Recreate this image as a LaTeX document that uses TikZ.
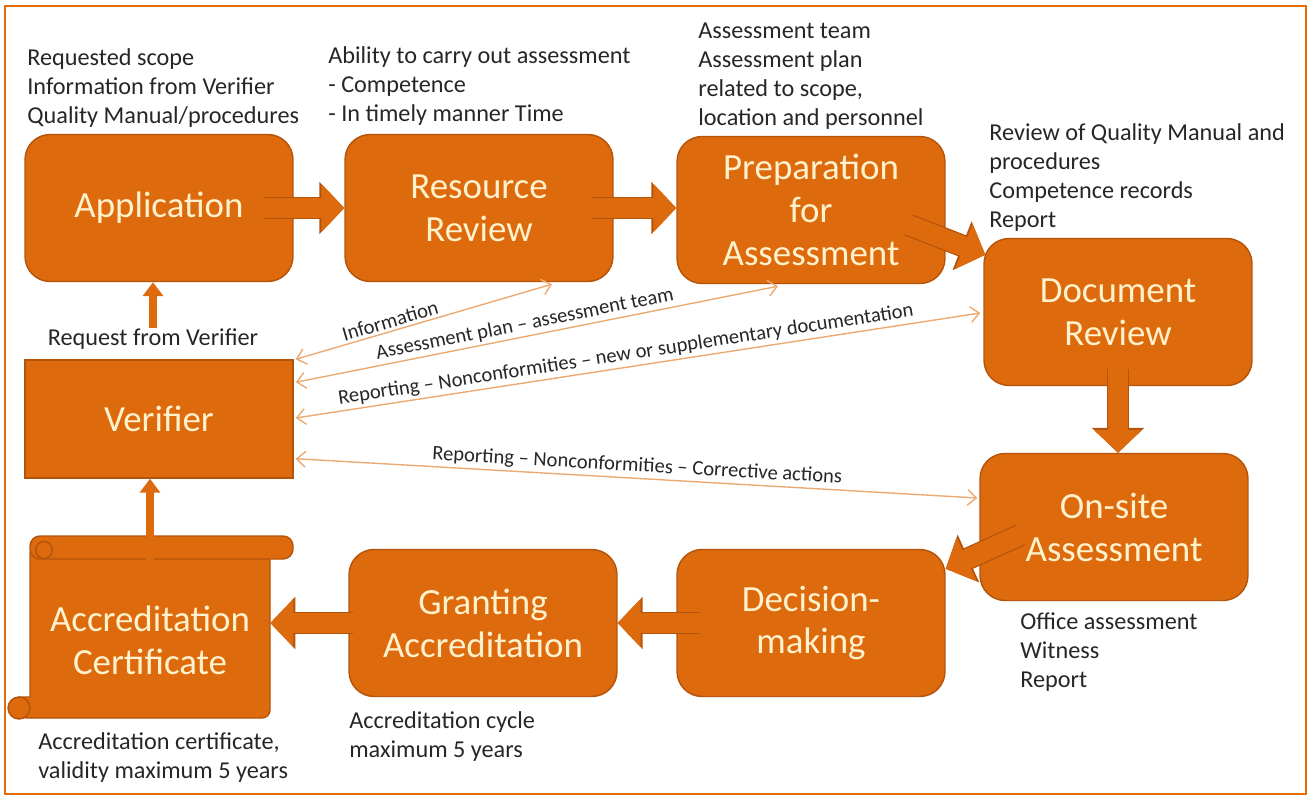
\documentclass[tikz,border=0pt]{standalone}
\usepackage{fontspec}
\setmainfont{Carlito}
\usepackage{tikz}
\usetikzlibrary{arrows.meta, positioning, calc}
\usepackage{xcolor}
\definecolor{boxfill}{RGB}{222,106,14}
\definecolor{boxline}{RGB}{180,84,10}
\definecolor{boxtext}{RGB}{255,242,204}
\definecolor{infoline}{RGB}{236,170,115}
\definecolor{framecol}{RGB}{228,108,10}

\begin{document}
\begin{tikzpicture}[
      x=0.02cm, y=-0.02cm,
      title/.style={align=center, text=boxtext, font=\fontsize{21}{24.4}\selectfont},
      stage/.style={title, draw=boxline, fill=boxfill, line width=0.8pt, rounded corners=0.5cm, minimum width=5.36cm, minimum height=2.94cm},
      note/.style={anchor=base west, align=left, inner sep=0pt, text=black!85, font=\fontsize{13.8}{16.4}\selectfont},
      fat/.style={draw=boxfill, line width=0.4cm, -{Triangle[width=0.94cm, length=0.46cm]},
        preaction={draw=boxline, line width=0.45cm, -{Triangle[width=1.02cm, length=0.5cm]}}},
      slim/.style={draw=boxfill, line width=0.16cm, -{Triangle[width=0.4cm, length=0.28cm]}},
      info/.style={draw=infoline, line width=0.8pt, {Straight Barb[length=5pt, width=9pt]}-{Straight Barb[length=5pt, width=9pt]}},
      data/.style={sloped, above, pos=#1, text=black!85, font=\fontsize{11.7}{14}\selectfont, inner sep=1.5pt},
      data/.default=0.5,
      scroll/.style={draw=boxline, fill=boxfill, line width=0.8pt}
    ]
    \useasboundingbox (0,0) rectangle (1312,798);
    \draw[framecol, line width=1.2pt] (5,6) rectangle (1306,794);

    % Stages
    \node[stage] (app) at (159,208) {Application};
    \node[stage] (res) at (479,208) {Resource\\Review};
    \node[stage] (prep) at (811,210) {Preparation\\for\\Assessment};
    \node[stage] (doc) at (1118,312) {Document\\Review};
    \node[stage] (onsite) at (1114,527) {On-site\\Assessment};
    \node[stage] (dec) at (811,623) {Decision-\\making};
    \node[stage] (grant) at (483,623) {Granting\\Accreditation};
    \node[stage, rounded corners=0pt, minimum height=2.36cm] (ver) at (159,419) {Verifier};

    % Certificate scroll
    \filldraw[scroll] (30,552) -- (270,552) [rounded corners=0.16cm] -- (270,718) -- (19,718) [sharp corners] -- (19,697) -- (30,697) -- cycle;
    \filldraw[scroll] (19,708) circle (0.22cm);
    \filldraw[scroll, rounded corners=0.2cm] (30,536) rectangle (293,559);
    \filldraw[scroll] (44,550) circle (0.17cm);
    \node[title, minimum width=4.8cm, minimum height=3.18cm] (cert) at (150,640) {Accreditation\\Certificate};

    % Notes (placed at the baseline of their last line)
    \node[note] (appnote) at (27,123) {Requested scope\\Information from Verifier\\Quality Manual/procedures};
    \node[note] (resnote) at (328,121) {Ability to carry out assessment\\- Competence\\- In timely manner Time};
    \node[note] (prepnote) at (698,125) {Assessment team\\Assessment plan\\related to scope,\\location and personnel};
    \node[note] (docnote) at (989,227) {Review of Quality Manual and\\procedures\\Competence records\\Report};
    \node[note] (onsitenote) at (1020,687) {Office assessment\\Witness\\Report};
    \node[note] (grantnote) at (349,757) {Accreditation cycle\\maximum 5 years};
    \node[note] (certnote) at (38,778) {Accreditation certificate,\\validity maximum 5 years};
    \node[note, anchor=base] (req) at (153,345) {Request from Verifier};

    % Arrows
    \draw[fat] ($(app.east)+(-30,0)$) -- (res.west);
    \draw[fat] ($(res.east)+(-22,0)$) -- (res.east -| prep.west);
    \draw[fat] ($(prep.east)+(-37,15)$) -- ($(doc.north west)+(2,17)$);
    \draw[fat] ($(doc.south)+(0,-17)$) -- (doc.south |- onsite.north);
    \draw[fat] ($(onsite.west)+(41,8)$) -- ($(dec.north east)+(0,20)$);
    \draw[fat] ($(dec.west)+(23,0)$) -- (grant.east);
    \draw[fat] ($(grant.west)+(5,0)$) -- (cert.east |- grant.west);
    \draw[slim] (req.north) -- (req.north |- app.south);
    \draw[slim] (cert.north) -- (cert.north |- ver.south);

    % Information flow
    \draw[info] ($(ver.north east)+(2,0)$) -- ($(res.south)+(73,2)$) node[data=0.38] {Information};
    \draw[info] ($(ver.north east)+(2,23)$) -- ($(prep.south)+(-33,2)$) node[data=0.48] {Assessment plan -- assessment team};
    \draw[info] ($(ver.east)+(2,-1)$) -- ($(doc.west)+(-3,1)$) node[data=0.485] {Reporting -- Nonconformities -- new or supplementary documentation};
    \draw[info] ($(ver.south east)+(2,-20)$) -- ($(onsite.west)+(-2,-29)$) node[data=0.5] {Reporting -- Nonconformities -- Corrective actions};
  \end{tikzpicture}
\end{document}
